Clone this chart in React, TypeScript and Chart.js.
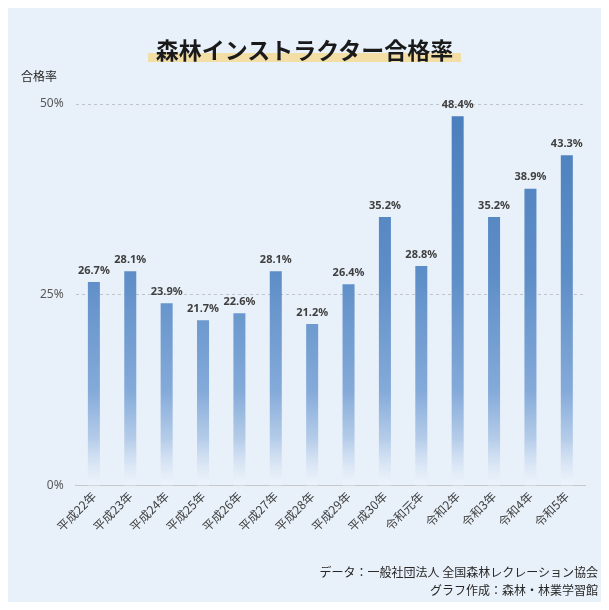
import React, { useEffect, useRef } from "react";
import { Chart, registerables } from "chart.js";

Chart.register(...registerables);

const categories = ["平成22年", "平成23年", "平成24年", "平成25年", "平成26年", "平成27年", "平成28年", "平成29年", "平成30年", "令和元年", "令和2年", "令和3年", "令和4年", "令和5年"];
const passRates = [26.7, 28.1, 23.9, 21.7, 22.6, 28.1, 21.2, 26.4, 35.2, 28.8, 48.4, 35.2, 38.9, 43.3];
const yTicks = [0, 25, 50];

const FONT = "'Noto Sans CJK JP', 'Noto Sans', sans-serif";

const labelPlugin = {
  id: "barLabels",
  afterDatasetsDraw(chart: any) {
    const ctx = chart.ctx;
    const meta = chart.getDatasetMeta(0);
    ctx.save();
    ctx.font = "bold 11px 'Noto Sans', " + FONT;
    ctx.fillStyle = "#404040";
    ctx.textAlign = "center";
    ctx.textBaseline = "bottom";
    meta.data.forEach((bar: any, i: number) => {
      ctx.fillText(passRates[i].toFixed(1) + "%", bar.x, bar.y - 6);
    });
    ctx.restore();
  },
};

export default function App() {
  const ref = useRef<HTMLCanvasElement>(null);
  useEffect(() => {
    if (!ref.current) return;
    const chart = new Chart(ref.current, {
      type: "bar",
      data: {
        labels: categories,
        datasets: [
          {
            data: passRates,
            barPercentage: 0.66,
            categoryPercentage: 0.5,
            backgroundColor: (c: any) => {
              const area = c.chart.chartArea;
              if (!area) return "#4a7ebc";
              const g = c.chart.ctx.createLinearGradient(0, area.top, 0, area.bottom);
              g.addColorStop(0, "#4a7ebc");
              g.addColorStop(0.45, "#5e8ec7");
              g.addColorStop(0.75, "#84aad9");
              g.addColorStop(0.88, "#b6cde9");
              g.addColorStop(1, "rgba(240,245,252,0.6)");
              return g;
            },
          },
        ],
      },
      options: {
        animation: false,
        responsive: false,
        maintainAspectRatio: false,
        layout: { padding: { top: 104, left: 28, right: 24, bottom: 73 } },
        plugins: { legend: { display: false }, tooltip: { enabled: false } },
        scales: {
          x: {
            grid: { display: false, drawTicks: false },
            border: { display: true, color: "#c8c8c8" },
            ticks: {
              minRotation: 45,
              maxRotation: 45,
              color: "#404040",
              font: { size: 12, family: FONT },
              padding: 3,
            },
          },
          y: {
            min: 0,
            max: 50,
            afterBuildTicks: (axis: any) => {
              axis.ticks = yTicks.map((v) => ({ value: v }));
            },
            grid: {
              color: "#c0c4c8",
              drawTicks: false,
            },
            border: { display: false, dash: [3, 3] },
            ticks: {
              color: "#595959",
              font: { size: 12, family: "'Noto Sans', " + FONT },
              padding: 12,
              callback: (v: any) => v + "%",
            },
          },
        },
      },
      plugins: [labelPlugin],
    });
    return () => chart.destroy();
  }, []);

  return (
    <div
      style={{
        position: "relative",
        width: 609,
        height: 610,
        margin: -8,
        background: "#e8f0f9",
        fontFamily: FONT,
        overflow: "hidden",
      }}
    >
      <canvas ref={ref} width={609} height={610} style={{ position: "absolute", left: 0, top: 0 }} />
      <div
        style={{
          position: "absolute",
          left: 0,
          width: 609,
          top: 33,
          textAlign: "center",
        }}
      >
        <span
          style={{
            fontSize: 23,
            fontWeight: "bold",
            color: "#1a1a1a",
            background: "linear-gradient(transparent 62%, #f3dfa6 62%, #f3dfa6 88%, transparent 88%)",
            padding: "0 8px",
            lineHeight: "32px",
          }}
        >
          森林インストラクター合格率
        </span>
      </div>
      <div style={{ position: "absolute", left: 21, top: 67, fontSize: 12, color: "#262626" }}>合格率</div>
      <div
        style={{
          position: "absolute",
          right: 11,
          top: 563,
          fontSize: 12,
          color: "#262626",
          textAlign: "right",
          lineHeight: "18px",
        }}
      >
        データ：一般社団法人 全国森林レクレーション協会
        <br />
        グラフ作成：森林・林業学習館
      </div>
    </div>
  );
}
